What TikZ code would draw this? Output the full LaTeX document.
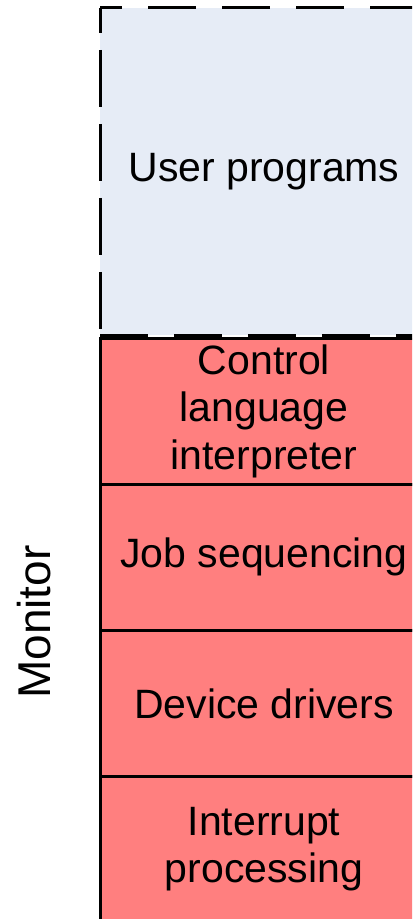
\documentclass[tikz,border=0pt]{standalone}
\usepackage{fontspec}
\setmainfont{Liberation Sans}
\usetikzlibrary{positioning}

\definecolor{userblue}{RGB}{230,236,246}
\definecolor{monred}{RGB}{255,127,127}

\begin{document}
\begin{tikzpicture}[
    node distance=0pt,
    userarea/.style={rectangle, fill=userblue, minimum width=164pt, minimum height=163.5pt, outer sep=0pt, align=center, font=\fontsize{20.5}{23.7}\selectfont},
    layer/.style={rectangle, draw, line width=1.5pt, fill=monred, minimum width=164pt, minimum height=73pt, outer sep=0pt, align=center, font=\fontsize{20.5}{23.7}\selectfont},
    edge_h/.style={line width=1.5pt, dash pattern=on 24pt off 13pt},
    edge_v/.style={line width=1.5pt, dash pattern=on 28.5pt off 8.5pt},
    side/.style={font=\fontsize{23}{26}\selectfont}
]
\clip (0pt,0pt) rectangle (206pt,-459.5pt);

% Top part - user area
\node[userarea, anchor=north west] (user) at (50pt,-4pt) {User programs};

% Monitor layers
\node[layer, below=1.5pt of user] (cli) {Control\\language\\interpreter};
\node[layer, below=of cli] (jobs) {Job sequencing};
\node[layer, below=of jobs] (drivers) {Device drivers};
\node[layer, below=of drivers] (irq) {Interrupt\\processing};

\node[side, rotate=90] (monitor) at (17pt,-311pt) {Monitor};

% Dashed border of the user area
\draw[edge_h, dash phase=13pt] (user.north west) -- (user.north east);
\draw[edge_v, dash phase=16pt] (user.north west) -- (user.south west);
\draw[edge_h] (user.south west) -- (user.south east);

\end{tikzpicture}
\end{document}
